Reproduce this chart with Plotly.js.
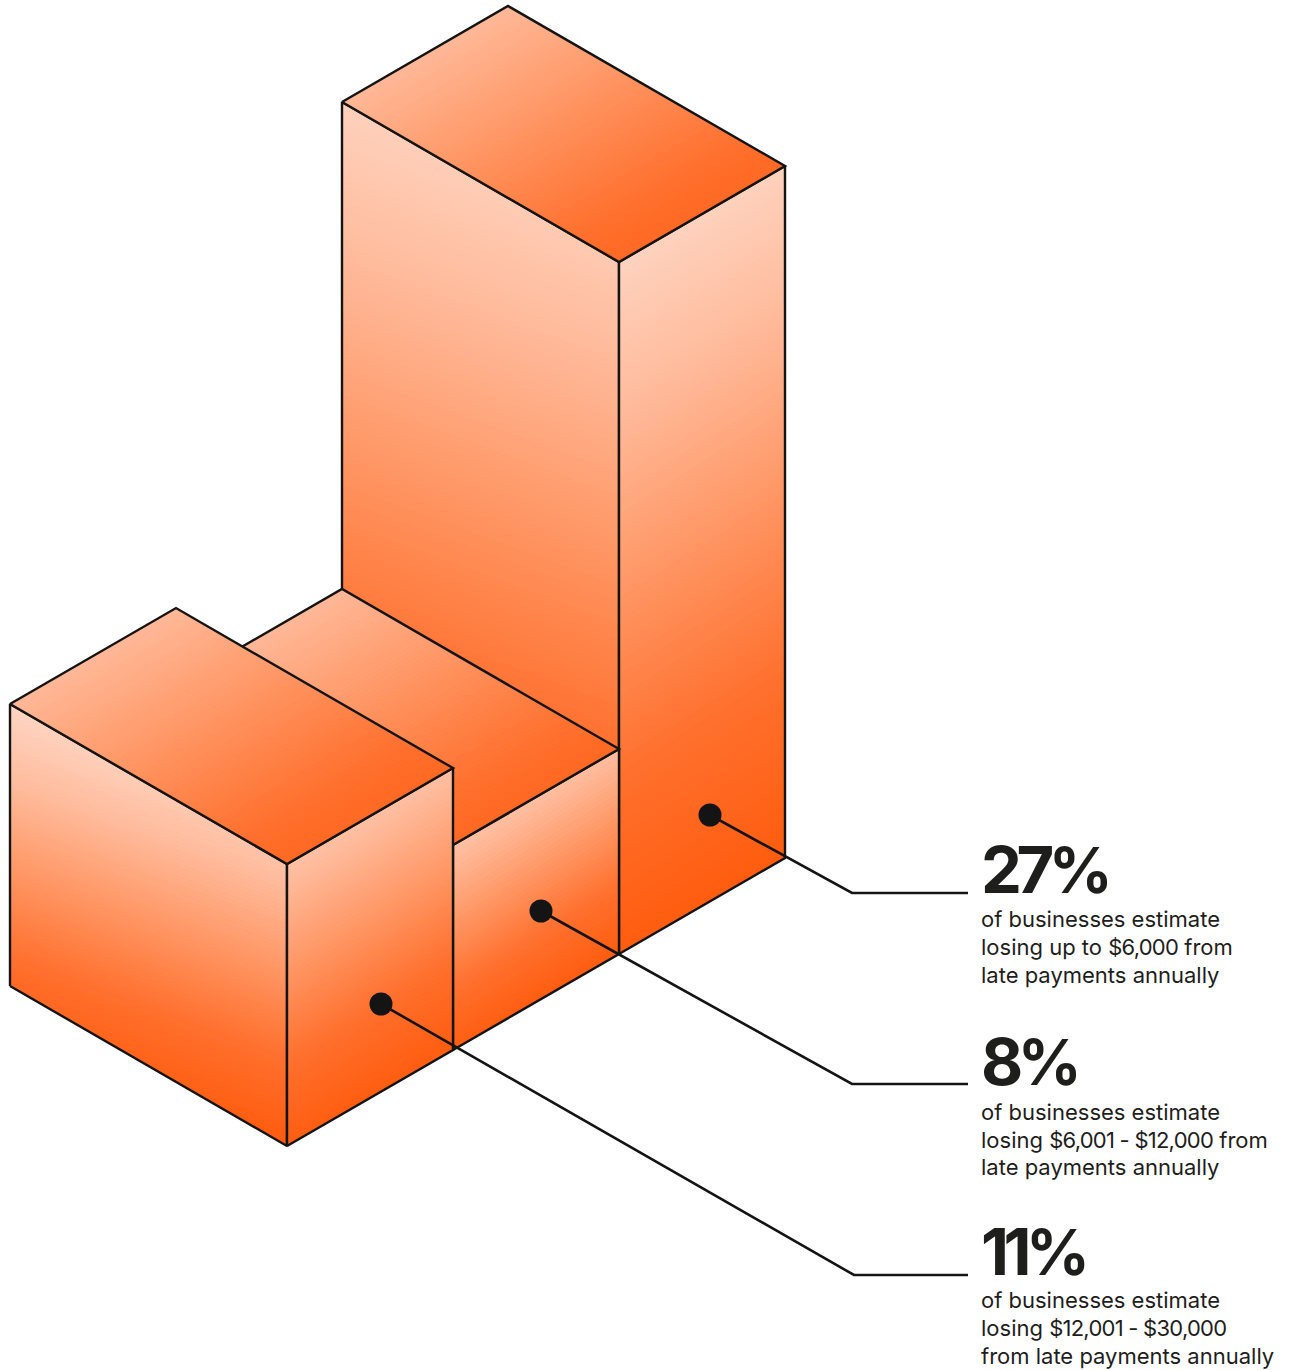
<!DOCTYPE html>
<html>
<head>
<meta charset="utf-8">
<script src="https://cdn.plot.ly/plotly-3.0.1.min.js"></script>
<style>
  html, body { margin: 0; padding: 0; background: #ffffff; }
  #chart { width: 1292px; height: 1370px; }
</style>
</head>
<body>
<div id="chart"></div>
<script>
// Share of businesses per annual late-payment loss band, front bar first.
const shares = [11, 8, 27];
const headlines = ['11', '8', '27'];
const captions = [
  ['of businesses estimate', 'losing <N>$12,001 - $30,000</N>', 'from late payments annually'],
  ['of businesses estimate', 'losing <N>$6,001 - $12,000</N> from', 'late payments annually'],
  ['of businesses estimate', 'losing up to <N>$6,000</N> from', 'late payments annually']
];

// Isometric frame, in plot units.
const PX_PER_POINT = 25.63;
const FRONT_CORNER = [287, 1146];
const EDGE_LONG = [277, 160];
const EDGE_SHORT = [166, -96];

// Callouts: dot on each bar's right face, elbow, and where the rule stops.
const dotX = [381, 541, 710];
const dotY = [1004, 911, 815];
const elbowX = [854, 852, 852];
const ruleY = [1275, 1084, 893];
const RULE_END = 968;
const TEXT_X = 980;
const headlineBase = [1292, 1102, 910];
const captionBase = [[1314, 1342, 1370], [1126, 1154, 1181], [933, 961, 989]];

const INK = '#141414';
const RAMP = [[0, [254, 216, 199]], [0.25, [255, 187, 156]], [0.5, [255, 150, 100]], [0.75, [255, 112, 46]], [1, [255, 92, 14]]];

function rampColor(t) {
  t = Math.min(1, Math.max(0, t));
  for (let i = 1; i < RAMP.length; i++) {
    if (t <= RAMP[i][0]) {
      const [t0, c0] = RAMP[i - 1];
      const [t1, c1] = RAMP[i];
      const f = (t - t0) / (t1 - t0);
      return 'rgb(' + c0.map((c, k) => Math.round(c + (c1[k] - c) * f)).join(',') + ')';
    }
  }
  return 'rgb(255,92,14)';
}

// Keeps the part of a polygon where dot(p, n) lies on the wanted side of a limit.
function clipPolygon(poly, n, limit, keepAbove) {
  const side = p => (p[0] * n[0] + p[1] * n[1] - limit) * (keepAbove ? 1 : -1);
  const out = [];
  poly.forEach((a, i) => {
    const b = poly[(i + 1) % poly.length];
    const sa = side(a), sb = side(b);
    if (sa >= 0) out.push(a);
    if ((sa >= 0) !== (sb >= 0)) {
      const f = sa / (sa - sb);
      out.push([a[0] + (b[0] - a[0]) * f, a[1] + (b[1] - a[1]) * f]);
    }
  });
  return out;
}

const traces = [];

// Paints a face as thin same-coloured bands along the normal n, then outlines it.
function addFace(poly, angleDeg, t0, t1) {
  const a = angleDeg * Math.PI / 180;
  const n = [Math.sin(a), Math.cos(a)];
  const proj = poly.map(p => p[0] * n[0] + p[1] * n[1]);
  const lo = Math.min(...proj), hi = Math.max(...proj);
  const bands = Math.min(100, Math.round((hi - lo) / 4));
  for (let i = 0; i < bands; i++) {
    const from = lo + (hi - lo) * i / bands;
    const to = lo + (hi - lo) * (i + 1) / bands;
    let piece = clipPolygon(poly, n, from, true);
    piece = clipPolygon(piece, n, to, false);
    if (piece.length < 3) continue;
    const color = rampColor(t0 + (t1 - t0) * (i + 0.5) / bands);
    traces.push({
      x: piece.map(p => p[0]).concat(piece[0][0]),
      y: piece.map(p => p[1]).concat(piece[0][1]),
      mode: 'lines', fill: 'toself', fillcolor: color,
      line: { color: color, width: 1 },
      hoverinfo: 'skip', showlegend: false
    });
  }
  traces.push({
    x: poly.map(p => p[0]).concat(poly[0][0]),
    y: poly.map(p => p[1]).concat(poly[0][1]),
    mode: 'lines', line: { color: INK, width: 2.4, simplify: false },
    hoverinfo: 'skip', showlegend: false
  });
}

// Back to front, so nearer bars cover the ones behind them.
for (let i = shares.length - 1; i >= 0; i--) {
  const h = shares[i] * PX_PER_POINT;
  const tall = shares[i] > 20;
  const f = [FRONT_CORNER[0] + EDGE_SHORT[0] * i, FRONT_CORNER[1] + EDGE_SHORT[1] * i];
  const r = [f[0] + EDGE_SHORT[0], f[1] + EDGE_SHORT[1]];
  const l = [f[0] - EDGE_LONG[0], f[1] - EDGE_LONG[1]];
  const up = p => [p[0], p[1] - h];
  const back = [r[0] - EDGE_LONG[0], r[1] - EDGE_LONG[1]];
  addFace([l, f, up(f), up(l)], -20, tall ? 0.06 : 0.02, 1);
  addFace([f, r, up(r), up(f)], 32, tall ? 0.05 : 0.2, 1);
  addFace([up(l), up(f), up(r), up(back)], 30, 0.27, 0.84);
}

// Callout rules and dots.
shares.forEach((_, i) => {
  traces.push({
    x: [dotX[i], elbowX[i], RULE_END], y: [dotY[i], ruleY[i], ruleY[i]],
    mode: 'lines', line: { color: INK, width: 2.6 }, hoverinfo: 'skip', showlegend: false
  });
  traces.push({
    x: [dotX[i]], y: [dotY[i]], mode: 'markers',
    marker: { color: INK, size: 23, line: { width: 0 } }, hoverinfo: 'skip', showlegend: false
  });
});

const annotations = [];
const label = (text, y, size, weight) => annotations.push({
  x: TEXT_X, y: y, xref: 'x', yref: 'y', text: text, showarrow: false,
  xanchor: 'left', yanchor: 'bottom', borderpad: 0,
  font: { family: 'Inter', size: size, color: '#1e1e1c', weight: weight }
});
shares.forEach((_, i) => {
  label('<span style="letter-spacing:-5.5px">' + headlines[i] +
    '<span style="font-size:63px">%</span></span>', headlineBase[i], 65, 700);
  captions[i].forEach((line, j) => label(
    // Figures in the caption run a little tighter than the words around them.
    line.replace('<N>', '<span style="letter-spacing:-0.75px">').replace('</N>', '</span>'),
    captionBase[i][j], 22, 400));
});

Plotly.newPlot('chart', traces, {
  width: 1292, height: 1370,
  margin: { l: 0, r: 0, t: 0, b: 0 },
  paper_bgcolor: '#ffffff', plot_bgcolor: '#ffffff',
  showlegend: false,
  xaxis: { range: [0, 1292], visible: false, fixedrange: true },
  yaxis: { range: [1370, 0], visible: false, fixedrange: true },
  annotations: annotations
}, { displayModeBar: false, staticPlot: true });
</script>
</body>
</html>
